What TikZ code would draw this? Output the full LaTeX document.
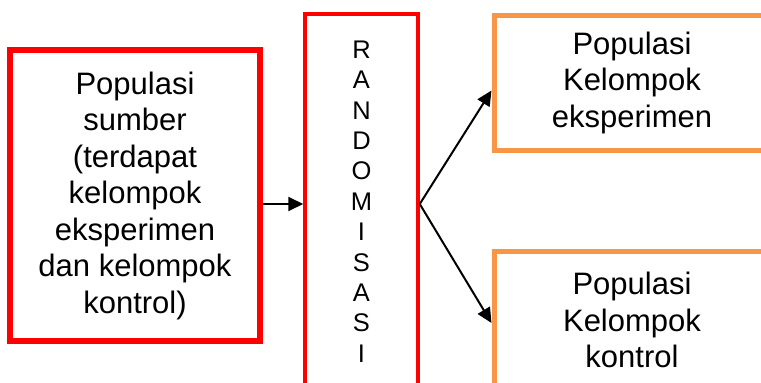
\documentclass[tikz,border=0pt]{standalone}
\usepackage{fontspec}
\setmainfont{Liberation Sans}
\usepackage{xcolor}
\usepackage{tikz}
\usetikzlibrary{positioning,%
  arrows.meta,%
  calc%
}

\definecolor{oranye}{RGB}{247,150,70}

\tikzset{
  kotak/.style={draw, rectangle, inner sep=0pt, align=center,
    font=\fontsize{31}{36.5}\selectfont},
  panah/.style={-{Triangle[length=15pt,width=14pt]}, line width=2pt}
}

\begin{document}
\begin{tikzpicture}[x=1pt,y=-1pt]
            \useasboundingbox (0,0) rectangle (761,383);
            \clip (0,0) rectangle (761,383);

            % kotak populasi sumber
            \node [kotak, red, text=black, line width=6pt,
                   minimum width=250pt, minimum height=291pt] (sumber) at (135,195.5)
                  {Populasi\\sumber\\(terdapat\\kelompok\\eksperimen\\dan kelompok\\kontrol)};

            % kotak randomisasi
            \node [kotak, red, text=black, line width=3.5pt,
                   minimum width=113pt, minimum height=375pt,
                   font=\fontsize{25.5}{30.4}\selectfont] (acak) at (361.5,201.5)
                  {R\\A\\N\\D\\O\\M\\I\\S\\A\\S\\I};

            % kotak hasil
            \node [kotak, oranye, text=black, line width=5pt,
                   minimum width=276pt, minimum height=135pt] (eksp) at (632,82.5)
                  {Populasi\\Kelompok\\eksperimen};
            \node [kotak, oranye, text=black, line width=5pt,
                   minimum width=276pt, minimum height=138pt] (kontrol) at (632,320)
                  {Populasi\\Kelompok\\kontrol};

            \coordinate (masuk) at ([yshift=-2.5pt]acak.west);
            \coordinate (cabang) at ([yshift=-2.5pt]acak.east);

            \draw [panah] (sumber.east |- masuk) -- (masuk);
            \draw [panah] (cabang) -- ([yshift=-8pt]eksp.west);
            \draw [panah] (cabang) -- ([yshift=-3pt]kontrol.west);
        \end{tikzpicture}
\end{document}
